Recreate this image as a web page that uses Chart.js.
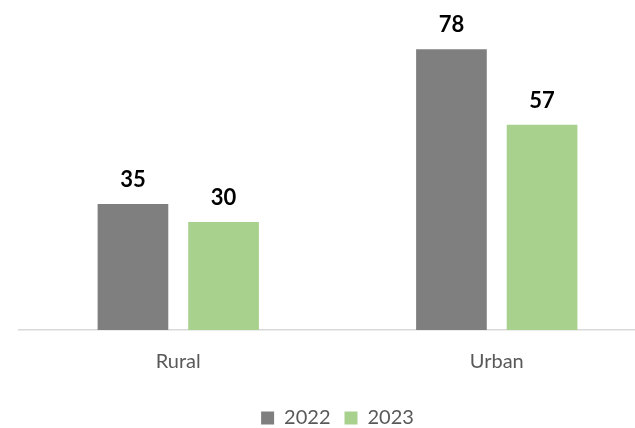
<!DOCTYPE html>
<html>
<head>
<meta charset="utf-8">
<script src="https://cdn.jsdelivr.net/npm/chart.js@4.4.0/dist/chart.umd.min.js"></script>
<style>
html,body{margin:0;padding:0;background:#fff;overflow:hidden;}
#wrap{width:656px;height:438px;position:relative;}
</style>
</head>
<body>
<div id="wrap"><canvas id="c"></canvas></div>
<script>
const categories = ["Rural", "Urban"];
const seriesNames = ["2022", "2023"];
const values2022 = [35, 78];
const values2023 = [30, 57];

const labelPlugin = {
  id: 'valueLabels',
  afterDatasetsDraw(chart) {
    const ctx = chart.ctx;
    ctx.save();
    ctx.font = 'bold 22px Lato';
    ctx.fillStyle = '#000000';
    ctx.textAlign = 'center';
    ctx.textBaseline = 'alphabetic';
    chart.data.datasets.forEach((ds, i) => {
      const meta = chart.getDatasetMeta(i);
      meta.data.forEach((el, j) => {
        ctx.fillText(String(ds.data[j]), el.x, el.y - 17);
      });
    });
    ctx.restore();
  }
};

new Chart(document.getElementById('c'), {
  type: 'bar',
  data: {
    labels: categories,
    datasets: [
      { label: seriesNames[0], data: values2022, backgroundColor: '#7f7f7f', borderWidth: 0,
        categoryPercentage: 0.569, barPercentage: 0.78 },
      { label: seriesNames[1], data: values2023, backgroundColor: '#a9d18e', borderWidth: 0,
        categoryPercentage: 0.569, barPercentage: 0.78 }
    ]
  },
  options: {
    responsive: true,
    maintainAspectRatio: false,
    animation: false,
    layout: { padding: { left: 19, right: 0, top: 6, bottom: 0 } },
    plugins: {
      tooltip: { enabled: false },
      legend: {
        position: 'bottom',
        labels: {
          font: { family: 'Lato', size: 20 },
          color: '#595959',
          boxWidth: 13,
          boxHeight: 13,
          padding: 14
        }
      }
    },
    scales: {
      x: {
        grid: { display: false, drawTicks: false },
        border: { display: true, color: '#d9d9d9', width: 1.5 },
        ticks: { font: { family: 'Lato', size: 20 }, color: '#595959', padding: 20 }
      },
      y: {
        display: false,
        min: 0,
        max: 90
      }
    }
  },
  plugins: [labelPlugin]
});
</script>
</body>
</html>
